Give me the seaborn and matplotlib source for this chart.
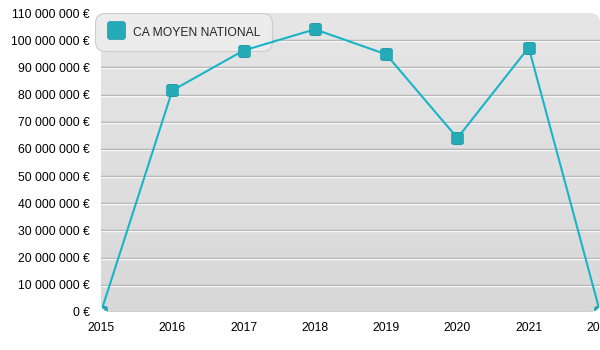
import numpy as np
import pandas as pd
import matplotlib
matplotlib.use("Agg")
import matplotlib.pyplot as plt
import matplotlib.transforms as mtransforms
from matplotlib.patches import FancyBboxPatch
from matplotlib.path import Path
from matplotlib.lines import Line2D
import seaborn as sns

# Average national turnover per year
years = [2015, 2016, 2017, 2018, 2019, 2020, 2021, 2022]
ca_moyen = [0, 81_500_000, 96_200_000, 104_000_000, 94_800_000, 64_000_000, 97_300_000, 0]
series_name = "CA MOYEN NATIONAL"
y_ticks = list(range(0, 110_000_001, 10_000_000))

sns.set_theme(style="white")
plt.rcParams["font.family"] = ["Liberation Sans", "DejaVu Sans"]

LINE = "#19b4c7"
MARK = "#24abb7"
FS = 8.7

def rounded_square(r=0.3, n=6):
    """Square marker path with rounded corners."""
    pts = []
    half = 1.0
    centers = [(half - r, half - r), (-half + r, half - r), (-half + r, -half + r), (half - r, -half + r)]
    starts = [0, 90, 180, 270]
    for (cx, cy), a0 in zip(centers, starts):
        for t in np.linspace(a0, a0 + 90, n):
            pts.append((cx + r * np.cos(np.radians(t)), cy + r * np.sin(np.radians(t))))
    pts.append(pts[0])
    codes = [Path.MOVETO] + [Path.LINETO] * (len(pts) - 2) + [Path.CLOSEPOLY]
    return Path(pts, codes)

marker_path = rounded_square()

fig = plt.figure(figsize=(6, 3.5), dpi=100)
fig.patch.set_facecolor("white")
ax = fig.add_axes([101 / 600, 38 / 350, 499 / 600, 299 / 350])
ax.set_facecolor("none")

# Rounded plot background with a soft vertical gradient (lighter at the top)
bg = FancyBboxPatch((0, 0), 1, 1, boxstyle="round,pad=0,rounding_size=0.02",
                    transform=ax.transAxes, facecolor="none", edgecolor="none",
                    mutation_aspect=499 / 299)
ax.add_patch(bg)
grad = np.linspace(0, 1, 256).reshape(-1, 1)
cmap = matplotlib.colors.LinearSegmentedColormap.from_list("bg", ["#e6e6e6", "#d8d8d8"])
im = ax.imshow(grad, cmap=cmap, aspect="auto", extent=[0, 1, 0, 1], origin="upper",
               transform=ax.transAxes, zorder=0, interpolation="bilinear")
im.set_clip_path(bg)

df = pd.DataFrame({"year": years, "ca": ca_moyen})

# Grid lines with a light highlight underneath
shift = mtransforms.ScaledTranslation(0, -1 / 100, fig.dpi_scale_trans)
ytrans = ax.get_yaxis_transform()
for v in y_ticks[1:-1]:
    l1, = ax.plot([0, 1], [v, v], color="#a8a8a8", lw=1.0, zorder=1, transform=ytrans)
    l2, = ax.plot([0, 1], [v, v], color="#f7f7f7", lw=1.0, zorder=1, transform=ytrans + shift)
    l1.set_clip_path(bg)
    l2.set_clip_path(bg)
base, = ax.plot([0, 1], [0, 0], color="#b4b4b4", lw=1.0, zorder=1, transform=ytrans)
base.set_clip_path(bg)

sns.lineplot(data=df, x="year", y="ca", ax=ax, color=LINE, lw=1.5,
             marker=marker_path, markersize=8.5, markerfacecolor=MARK,
             markeredgecolor="#1f9ca8", markeredgewidth=0.5, zorder=4)
ax.lines[-1].set_clip_path(bg)

ax.set_xlim(years[0], years[-1])
ax.set_ylim(0, 110_000_000)
ax.set_xticks(years)
ax.set_xticklabels([str(y) for y in years])
ax.set_yticks(y_ticks)
ax.set_yticklabels([f"{v:,.0f}".replace(",", " ") + " €" for v in y_ticks])
ax.tick_params(axis="both", length=0, labelsize=FS, colors="black")
ax.tick_params(axis="y", pad=8)
ax.tick_params(axis="x", pad=7)
ax.set_xlabel("")
ax.set_ylabel("")
for s in ax.spines.values():
    s.set_visible(False)

handle = Line2D([], [], ls="none", marker=marker_path, markersize=13,
                markerfacecolor=MARK, markeredgecolor="#1f9ca8", markeredgewidth=0.5)
leg = ax.legend([handle], [series_name], loc="upper left",
                bbox_to_anchor=(95 / 600, 1 - 13 / 350), bbox_transform=fig.transFigure,
                frameon=True, fancybox=True, shadow=False, fontsize=FS,
                borderpad=0.95, handletextpad=0.7, handlelength=1.5, handleheight=1.5,
                borderaxespad=0)
frame = leg.get_frame()
frame.set_facecolor("#ececec")
frame.set_edgecolor("#cdcdcd")
frame.set_alpha(1)
frame.set_linewidth(0.8)
frame.set_boxstyle("round,pad=0,rounding_size=0.8")
leg.set_zorder(3)

fig.savefig("out.png", dpi=100)
